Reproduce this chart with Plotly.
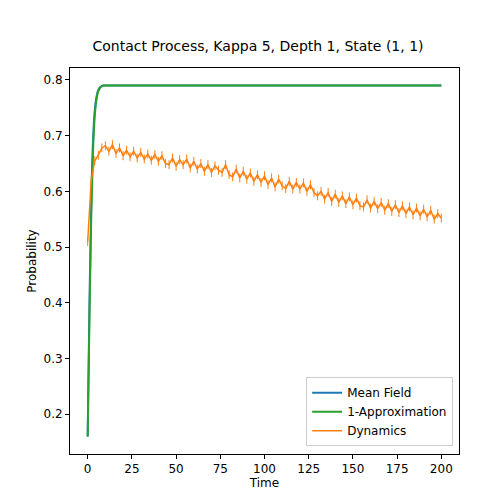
import plotly.graph_objects as go

mf_time = [0, 1, 2, 3, 4, 5, 6, 7, 8, 9, 10, 200]
mean_field = [0.16, 0.40, 0.58, 0.69, 0.745, 0.77, 0.782, 0.787, 0.789, 0.79, 0.79, 0.79]
one_approx = [0.16, 0.37, 0.55, 0.67, 0.735, 0.765, 0.78, 0.786, 0.789, 0.79, 0.79, 0.79]

dyn_time = list(range(0, 201, 2))
dynamics = [
    0.51, 0.62, 0.655, 0.665, 0.678, 0.682, 0.672, 0.684, 0.668, 0.678,
    0.664, 0.674, 0.662, 0.672, 0.66, 0.67, 0.658, 0.667, 0.656, 0.666,
    0.654, 0.664, 0.65, 0.648, 0.66, 0.645, 0.657, 0.648, 0.658, 0.642,
    0.654, 0.64, 0.65, 0.636, 0.648, 0.634, 0.646, 0.638, 0.634, 0.648,
    0.63, 0.626, 0.64, 0.624, 0.636, 0.622, 0.633, 0.618, 0.63, 0.616,
    0.628, 0.612, 0.624, 0.608, 0.622, 0.61, 0.605, 0.618, 0.604, 0.616,
    0.604, 0.615, 0.6, 0.612, 0.598, 0.592, 0.6, 0.586, 0.598, 0.582,
    0.595, 0.58, 0.592, 0.578, 0.59, 0.576, 0.588, 0.574, 0.572, 0.585,
    0.57, 0.582, 0.569, 0.58, 0.566, 0.578, 0.564, 0.576, 0.562, 0.574,
    0.56, 0.572, 0.558, 0.57, 0.556, 0.568, 0.554, 0.566, 0.55, 0.56,
    0.552,
]
dyn_err = [0.008] * len(dynamics)

fig = go.Figure()
fig.add_trace(go.Scatter(x=mf_time, y=mean_field, mode="lines", name="Mean Field",
                         line=dict(color="#1f77b4", width=2, shape="spline")))
fig.add_trace(go.Scatter(x=mf_time, y=one_approx, mode="lines", name="1-Approximation",
                         line=dict(color="#2ca02c", width=2, shape="spline")))
fig.add_trace(go.Scatter(x=dyn_time, y=dynamics, mode="lines", name="Dynamics",
                         line=dict(color="#ff7f0e", width=1.5),
                         error_y=dict(type="data", array=dyn_err, color="#ff7f0e",
                                      thickness=1, width=0)))

axis = dict(showgrid=False, zeroline=False, showline=True, mirror=True,
            linecolor="black", linewidth=1, ticks="outside", ticklen=4,
            tickcolor="black", tickfont=dict(size=12, color="black"),
            automargin=False)

fig.update_layout(
    width=500, height=500,
    margin=dict(l=62, r=49, t=60, b=54),
    paper_bgcolor="white", plot_bgcolor="white",
    font=dict(family="DejaVu Sans", color="black"),
    title=dict(text="Contact Process, Kappa 5, Depth 1, State (1, 1)",
               x=0.5, xanchor="center", y=0.915, yanchor="bottom",
               font=dict(size=14)),
    legend=dict(x=0.985, y=0.02, xanchor="right", yanchor="bottom",
                bordercolor="#cccccc", borderwidth=1, bgcolor="white",
                font=dict(size=12)),
)
fig.update_xaxes(axis, title=dict(text="Time", font=dict(size=12), standoff=2),
                 range=[-10, 210], tickvals=[0, 25, 50, 75, 100, 125, 150, 175, 200])
fig.update_yaxes(axis, title=dict(text="Probability", font=dict(size=12), standoff=4),
                 range=[0.1285, 0.8215], tickvals=[0.2, 0.3, 0.4, 0.5, 0.6, 0.7, 0.8],
                 tickformat=".1f")

fig.write_html("out.html")
